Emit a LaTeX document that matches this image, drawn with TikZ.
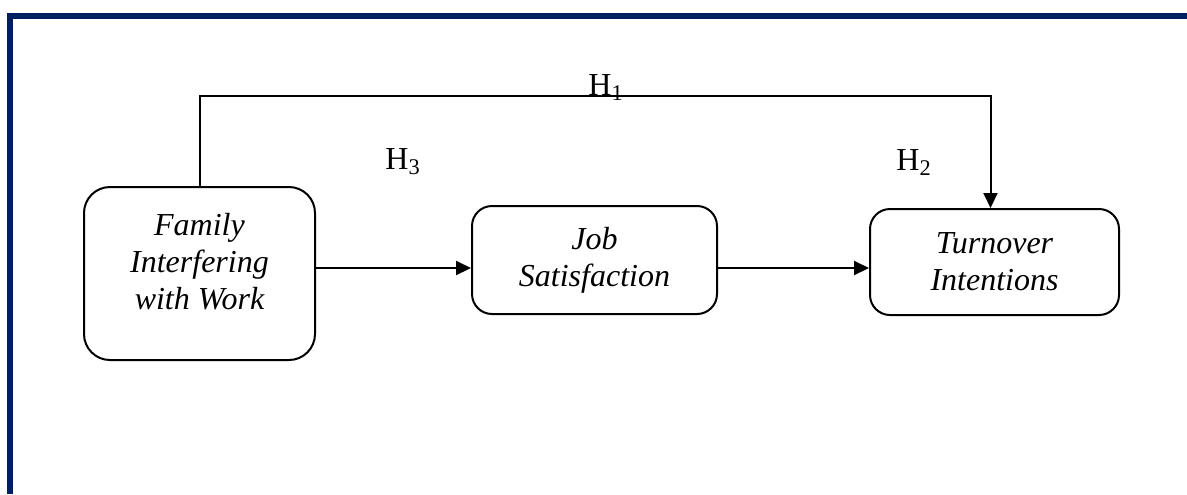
\documentclass[tikz,border=0pt]{standalone}
\usepackage{fontspec}
\setmainfont{Liberation Serif}
\usetikzlibrary{arrows.meta}
\definecolor{framenavy}{RGB}{0,31,96}

\begin{document}
\begin{tikzpicture}[x=0.5pt,y=-0.5pt,
   box/.style={draw,line width=1pt,align=center,font=\itshape\fontsize{16}{18.5}\selectfont},
   hyp/.style={anchor=base west,inner sep=0pt,font=\fontsize{16}{19}\selectfont},
   arr/.style={line width=1pt,-{Triangle[length=7.5pt,width=7pt]}}]

\useasboundingbox (0,0) rectangle (1187,494);
\draw[framenavy,line width=3pt] (10,494) -- (10,16) -- (1187,16);

\node[box,rounded corners=13pt,minimum width=115.5pt,minimum height=86.5pt,text depth=12pt]
   (fiw) at (199.5,273.5) {Family\\Interfering\\with Work};
\node[box,rounded corners=10pt,minimum width=122.5pt,minimum height=54pt]
   (js) at (594.5,260) {Job\\Satisfaction};
\node[box,rounded corners=10pt,minimum width=124.5pt,minimum height=53pt]
   (ti) at (994.5,262) {Turnover\\Intentions};

\coordinate (toprow) at (0,96);
\coordinate (midrow) at (0,268);

\draw[arr] (fiw.north) -- (fiw.north |- toprow) -| ([xshift=-2pt]ti.north);
\draw[arr] (fiw.east |- midrow) -- (js.west |- midrow);
\draw[arr] (js.east |- midrow) -- (ti.west |- midrow);

\node[hyp] (h1) at (588,95) {H\textsubscript{1}};
\node[hyp] (h2) at (896,170) {H\textsubscript{2}};
\node[hyp] (h3) at (385,169) {H\textsubscript{3}};

\end{tikzpicture}
\end{document}
